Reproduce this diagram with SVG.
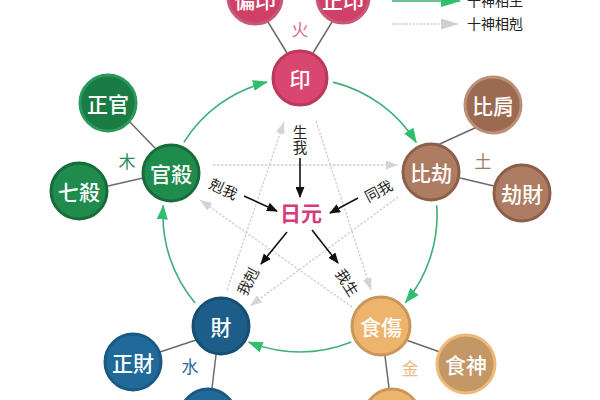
<svg xmlns="http://www.w3.org/2000/svg" width="600" height="400" viewBox="0 0 600 400">
<defs>
<marker id="gA" markerUnits="userSpaceOnUse" markerWidth="15" markerHeight="11" refX="14" refY="5.5" orient="auto"><path d="M0,0 L15,5.5 L0,11 Z" fill="#2fbf6e"/></marker>
<marker id="kA" markerUnits="userSpaceOnUse" markerWidth="12" markerHeight="9" refX="12" refY="4.5" orient="auto"><path d="M0,0 L12,4.5 L0,9 Z" fill="#d3d3d8"/></marker>
<marker id="bA" markerUnits="userSpaceOnUse" markerWidth="11" markerHeight="9" refX="10" refY="4.5" orient="auto"><path d="M0,0 L11,4.5 L0,9 Z" fill="#111"/></marker>
<marker id="gL" markerUnits="userSpaceOnUse" markerWidth="20" markerHeight="12" refX="19" refY="6" orient="auto"><path d="M0,0 L20,6 L0,12 Z" fill="#2fbf6e"/></marker>
<marker id="kL" markerUnits="userSpaceOnUse" markerWidth="18" markerHeight="11" refX="17" refY="5.5" orient="auto"><path d="M0,0 L18,5.5 L0,11 Z" fill="#cfcfd6"/></marker>
</defs>
<style>
.t{font-family:"Noto Sans CJK TC","Noto Sans CJK SC",sans-serif}
.nt{fill:#fff;font-size:21px;font-weight:500;text-anchor:middle;dominant-baseline:central}
.lb{fill:#222;font-size:14.5px;text-anchor:middle;dominant-baseline:central}
.el{font-size:17px;text-anchor:middle;dominant-baseline:central}
.sub{stroke:#6b6b6b;stroke-width:1.5;fill:none}
.gr{stroke:#3fae74;stroke-width:1.6;fill:none;marker-end:url(#gA)}
.kk{stroke:#cdcdd2;stroke-width:1.3;stroke-dasharray:2.5 1.5;fill:none;marker-end:url(#kA)}
.bk{stroke:#111;stroke-width:1.6;fill:none;marker-end:url(#bA)}
.fire{fill:#d9466f;stroke:#bb3a5c;stroke-width:3}
.fire2{fill:#cf3f66;stroke:#c65a78;stroke-width:3}
.wood{fill:#1f8b4d;stroke:#166c3b;stroke-width:3}
.wood2{fill:#1a7b45;stroke:#2a9a5c;stroke-width:3}
.earth{fill:#ad7c62;stroke:#8c5f48;stroke-width:3}
.earth2{fill:#9c6a51;stroke:#bb8f78;stroke-width:3}
.water{fill:#1c5e89;stroke:#164f74;stroke-width:3}
.water2{fill:#1f6a99;stroke:#1a5a82;stroke-width:3}
.metal{fill:#ecb46c;stroke:#c99759;stroke-width:3}
.metal2{fill:#c49766;stroke:#eeba78;stroke-width:3}
</style>
<rect width="600" height="400" fill="#fff"/>

<g id="legend">
<path d="M392,1 L460,1" stroke="#3fae74" stroke-width="1.6" fill="none" marker-end="url(#gL)"/>
<text class="t" x="467" y="6" font-size="14" fill="#222">十神相生</text>
<path d="M392,24 L458,24" stroke="#cdcdd2" stroke-width="1.3" stroke-dasharray="2 1.5" fill="none" marker-end="url(#kL)"/>
<text class="t" x="467" y="29" font-size="14" fill="#222">十神相剋</text>
</g>

<g id="connectors">
<path class="sub" d="M287,53 L268,22"/>
<path class="sub" d="M313,53 L332,22"/>
<path class="sub" d="M409,158 L477,127"/>
<path class="sub" d="M460,178 L494,186"/>
<path class="sub" d="M155,148 L126,118"/>
<path class="sub" d="M143,178 L108,186"/>
<path class="sub" d="M196,340 L160,352"/>
<path class="sub" d="M216,355 L212,388"/>
<path class="sub" d="M406,340 L440,352"/>
<path class="sub" d="M385,356 L389,388"/>

<path class="gr" d="M333.1,82.1 A137,137 0 0 1 416.2,142.4"/>
<path class="gr" d="M436.7,205.4 A137,137 0 0 1 405.5,302.4"/>
<path class="gr" d="M351.3,342 A137,137 0 0 1 248.7,342"/>
<path class="gr" d="M195.1,303.1 A137,137 0 0 1 163.3,205.4"/>
<path class="gr" d="M183.8,142.4 A137,137 0 0 1 266.9,82.1"/>

<path class="kk" d="M213,165 L398,165"/>
<path class="kk" d="M398,197 L250,306"/>
<path class="kk" d="M227,290 L284,122"/>
<path class="kk" d="M316,121 L371,290"/>
<path class="kk" d="M352,307 L200,200"/>

<path class="bk" d="M300,158 L300,197"/>
<path class="bk" d="M244,196 L277,211"/>
<path class="bk" d="M358,198 L330,213"/>
<path class="bk" d="M287,232 L261,264"/>
<path class="bk" d="M312,230 L338,263"/>
</g>

<g id="labels" class="t">
<text class="lb" x="300" y="140" writing-mode="tb">生我</text>
<text class="lb" transform="translate(224,188) rotate(25)">剋我</text>
<text class="lb" transform="translate(378,190) rotate(-28)">同我</text>
<text class="lb" transform="translate(247,281) rotate(-62)">我剋</text>
<text class="lb" transform="translate(348,282) rotate(58)">我生</text>
<text x="301" y="212" font-size="21" font-weight="700" fill="#d63c78" text-anchor="middle" dominant-baseline="central">日元</text>
<text class="el" x="300" y="28" fill="#d86a88">火</text>
<text class="el" x="127" y="160" fill="#2d8a5c">木</text>
<text class="el" x="483" y="160" fill="#9c7c68">土</text>
<text class="el" x="190" y="365" fill="#2c6a96">水</text>
<text class="el" x="410" y="367" fill="#e6bd86">金</text>
</g>

<g id="node-yin"><circle class="fire" cx="300" cy="78" r="27"/><text class="t nt" x="300" y="78">印</text></g>
<g id="node-pianyin"><circle class="fire2" cx="255" cy="-3" r="27"/><text class="t nt" x="255" y="-1">偏印</text></g>
<g id="node-zhengyin"><circle class="fire2" cx="343" cy="-3" r="26"/><text class="t nt" x="343" y="-1">正印</text></g>

<g id="node-bijie"><circle class="earth" cx="431" cy="172" r="28"/><text class="t nt" x="431" y="172">比劫</text></g>
<g id="node-bijian"><circle class="earth2" cx="493" cy="105" r="28"/><text class="t nt" x="493" y="105">比肩</text></g>
<g id="node-jiecai"><circle class="earth" cx="522" cy="193" r="28"/><text class="t nt" x="522" y="193">劫財</text></g>

<g id="node-guansha"><circle class="wood" cx="171" cy="173" r="28"/><text class="t nt" x="171" y="173">官殺</text></g>
<g id="node-zhengguan"><circle class="wood2" cx="108" cy="103" r="28"/><text class="t nt" x="108" y="103">正官</text></g>
<g id="node-qisha"><circle class="wood" cx="79" cy="191" r="28"/><text class="t nt" x="79" y="191">七殺</text></g>

<g id="node-cai"><circle class="water" cx="221" cy="326" r="28"/><text class="t nt" x="221" y="326">財</text></g>
<g id="node-zhengcai"><circle class="water2" cx="133" cy="362" r="28"/><text class="t nt" x="133" y="362">正財</text></g>
<g id="node-piancai"><circle class="water2" cx="208" cy="417" r="28"/></g>

<g id="node-shishang"><circle class="metal" cx="381" cy="326" r="29"/><text class="t nt" x="381" y="326">食傷</text></g>
<g id="node-shishen"><circle class="metal2" cx="466" cy="364" r="29"/><text class="t nt" x="466" y="364">食神</text></g>
<g id="node-shangguan"><circle class="metal" cx="392" cy="417" r="28"/></g>
</svg>
